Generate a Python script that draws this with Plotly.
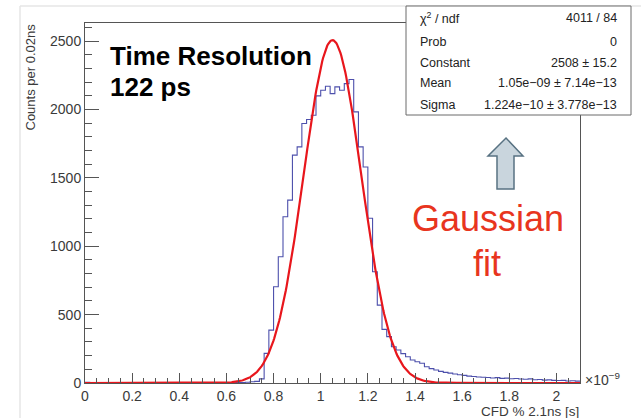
import numpy as np
import plotly.graph_objects as go

# Histogram: 105 bins of 0.02 ns between 0 and 2.1 ns (axis shown in units of 1e-9 s)
bin_width = 0.02
x_min, x_max = 0.0, 2.1
counts = [
    6, 4, 3, 2, 1, 1, 0, 0, 0, 0,            # 0.00 - 0.18
    0, 0, 0, 0, 0, 0, 0, 0, 0, 0,            # 0.20 - 0.38
    0, 0, 0, 0, 0, 0, 0, 0, 0, 0,            # 0.40 - 0.58
    1, 2, 3, 4, 6, 9, 12, 30, 217, 387,      # 0.60 - 0.78
    704, 923, 1216, 1338, 1667, 1727, 1898, 1928, 1959, 2100,   # 0.80 - 0.98
    2142, 2171, 2117, 2166, 2142, 2190, 2220, 1983, 1727, 1580, # 1.00 - 1.18
    1205, 814, 570, 392, 339, 265, 241, 215, 192, 168,          # 1.20 - 1.38
    155, 144, 119, 105, 95, 85, 78, 72, 66, 60,                 # 1.40 - 1.58
    56, 50, 48, 44, 42, 40, 37, 39, 34, 36,                     # 1.60 - 1.78
    31, 33, 29, 27, 30, 24, 26, 21, 23, 19,                     # 1.80 - 1.98
    18, 19, 15, 16, 14,                                         # 2.00 - 2.08
]

# Gaussian fit results
fit_constant = 2508.0
fit_mean = 1.05      # ns
fit_sigma = 0.1224   # ns

stats_labels = ["χ<sup>2</sup> / ndf", "Prob", "Constant", "Mean", "Sigma"]
stats_values = ["4011 / 84", "0", "2508 ± 15.2",
                "1.05e−09 ± 7.14e−13", "1.224e−10 ± 3.778e−13"]

y_max = 1.05 * fit_constant

W, H = 641, 418
L, R, T, B = 85, 61, 23, 35
PW, PH = W - L - R, H - T - B


def px(x):
    return (x - L) / PW


def py(y):
    return (H - B - y) / PH


edges = x_min + bin_width * np.arange(len(counts) + 1)
step_y = list(counts) + [counts[-1]]

xf = np.linspace(x_min, x_max, 600)
yf = fit_constant * np.exp(-0.5 * ((xf - fit_mean) / fit_sigma) ** 2)

FONT = "Liberation Sans, Arial, Helvetica, sans-serif"

fig = go.Figure()
fig.add_trace(go.Scatter(x=edges, y=step_y, mode="lines",
                         line=dict(shape="hv", color="#4d50ac", width=1.1),
                         hoverinfo="skip", showlegend=False))
fig.add_trace(go.Scatter(x=xf, y=yf, mode="lines",
                         line=dict(color="#e8161c", width=2.2),
                         hoverinfo="skip", showlegend=False))

fig.update_layout(
    width=W, height=H,
    margin=dict(l=L, r=R, t=T, b=B, pad=0),
    paper_bgcolor="white", plot_bgcolor="white",
    font=dict(family=FONT, color="#3a3a3a", size=14),
    showlegend=False,
)
fig.update_xaxes(
    range=[x_min, x_max], showgrid=False, zeroline=False,
    showline=True, linecolor="#555", linewidth=1, mirror=True,
    ticks="inside", ticklen=10, tickwidth=1, tickcolor="#555",
    tick0=0, dtick=0.2, tickfont=dict(size=14, color="#3a3a3a"),
    minor=dict(ticks="inside", dtick=0.05, ticklen=5, tickcolor="#555", showgrid=False),
)
fig.update_yaxes(
    range=[0, y_max], showgrid=False, zeroline=False,
    showline=True, linecolor="#555", linewidth=1, mirror=True,
    ticks="inside", ticklen=14, tickwidth=1, tickcolor="#555",
    tick0=0, dtick=500, tickfont=dict(size=14, color="#3a3a3a"),
    minor=dict(ticks="inside", dtick=100, ticklen=7, tickcolor="#555", showgrid=False),
)

shapes = []
# faint outer border of the canvas
shapes.append(dict(type="line", xref="paper", yref="paper",
                   x0=px(20), x1=px(W + 5), y0=py(6), y1=py(6),
                   line=dict(color="#e6e6e6", width=1.5)))
shapes.append(dict(type="line", xref="paper", yref="paper",
                   x0=px(20), x1=px(20), y0=py(6), y1=py(H + 5),
                   line=dict(color="#e6e6e6", width=1.5)))
# statistics box
shapes.append(dict(type="rect", xref="paper", yref="paper",
                   x0=px(406), x1=px(631), y0=py(6), y1=py(115),
                   fillcolor="white", line=dict(color="#6a6a6a", width=1), layer="above"))
# up arrow pointing at the fit box
arrow_pts = [(506, 138), (523, 156), (514, 156), (514, 189),
             (497, 189), (497, 156), (488, 156)]
path = "M " + " L ".join(f"{px(a):.5f},{py(b):.5f}" for a, b in arrow_pts) + " Z"
shapes.append(dict(type="path", xref="paper", yref="paper", path=path,
                   fillcolor="#c9d5dd", line=dict(color="#587282", width=1.5)))
fig.update_layout(shapes=shapes)

ann = []
rows_y = [18, 41.5, 62.5, 83.5, 105]
for lab, val, yy in zip(stats_labels, stats_values, rows_y):
    ann.append(dict(xref="paper", yref="paper", x=px(418), y=py(yy), text=lab,
                    showarrow=False, xanchor="left", yanchor="middle",
                    font=dict(size=12.5, color="#222")))
    ann.append(dict(xref="paper", yref="paper", x=px(619), y=py(yy), text=val,
                    showarrow=False, xanchor="right", yanchor="middle",
                    font=dict(size=12.5, color="#222")))

ann.append(dict(xref="paper", yref="paper", x=px(108), y=py(56), text="<b>Time Resolution</b>",
                showarrow=False, xanchor="left", yanchor="middle",
                font=dict(size=26, color="black")))
ann.append(dict(xref="paper", yref="paper", x=px(108), y=py(87), text="<b>122 ps</b>",
                showarrow=False, xanchor="left", yanchor="middle",
                font=dict(size=26, color="black")))
ann.append(dict(xref="paper", yref="paper", x=px(488), y=py(218), text="Gaussian",
                showarrow=False, xanchor="center", yanchor="middle",
                font=dict(size=36, color="#e8351e")))
ann.append(dict(xref="paper", yref="paper", x=px(487), y=py(263), text="fit",
                showarrow=False, xanchor="center", yanchor="middle",
                font=dict(size=36, color="#e8351e")))
# axis titles (right/top aligned, ROOT style)
ann.append(dict(xref="paper", yref="paper", x=px(581), y=py(411), text="CFD % 2.1ns [s]",
                showarrow=False, xanchor="right", yanchor="middle",
                font=dict(size=13.5, color="#3a3a3a")))
ann.append(dict(xref="paper", yref="paper", x=px(30), y=py(22), text="Counts per 0.02ns",
                showarrow=False, textangle=-90, xanchor="center", yanchor="top",
                font=dict(size=13, color="#3a3a3a")))
ann.append(dict(xref="paper", yref="paper", x=px(583), y=py(379), text="×10<sup>−9</sup>",
                showarrow=False, xanchor="left", yanchor="middle",
                font=dict(size=14, color="#3a3a3a")))
fig.update_layout(annotations=ann)

fig.write_html("out.html")
